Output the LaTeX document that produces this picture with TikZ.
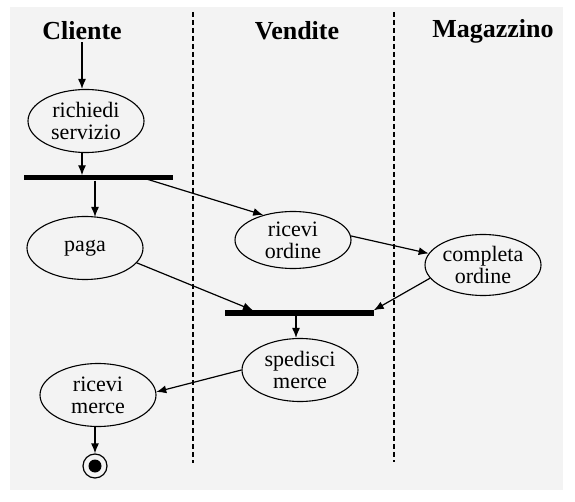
\documentclass[tikz,border=0pt]{standalone}
\usepackage{fontspec}
\setmainfont{Liberation Serif}
\usepackage{xcolor}
\usetikzlibrary{shapes.geometric,arrows.meta,positioning}
\definecolor{lanebg}{HTML}{F3F3F3}

\begin{document}
\begin{tikzpicture}[
x=1pt,y=-1pt,
act/.style={
  draw,
  ellipse,
  line width=1.1pt,
  inner sep=0pt,
  minimum width=116pt,
  minimum height=63pt,
  align=center,
  font=\fontsize{22}{22}\selectfont
},
bar/.style={
  fill=black,
  inner sep=0pt,
  minimum width=149pt,
  minimum height=5pt
},
title/.style={
  font=\fontsize{26}{28}\selectfont\bfseries,
  inner sep=2pt
},
flow/.style={
  -{Latex[length=10pt,width=8pt]},
  line width=1.2pt
},
lane/.style={
  dashed,
  dash pattern=on 5pt off 3pt,
  line width=1.2pt
}
]
\useasboundingbox (0,0) rectangle (575,502);
\fill[lanebg] (10,7) rectangle (563,490);

% corsie
\draw[lane] (193,12) -- (193,463);
\draw[lane] (394,12) -- (394,462);
\node[title] (cliente) at (82,31) {Cliente};
\node[title] (vendite) at (297,31) {Vendite};
\node[title] (magazzino) at (493,31) {Magazzino};

% attivita
\node[act] (richiedi) at (86,121) {richiedi\\servizio};
\node[bar] (fork) at (98.5,178) {};
\node[act] (paga) at (85,248) {paga};
\node[act,minimum height=57pt] (ricord) at (293,240) {ricevi\\ordine};
\node[act,minimum height=61pt] (completa) at (483,265) {completa\\ordine};
\node[bar] (join) at (299,313) {};
\node[act] (spedisci) at (300,370) {spedisci\\merce};
\node[act] (ricmerce) at (98,395) {ricevi\\merce};
\node[draw,circle,line width=1.2pt,minimum size=24pt,inner sep=0pt] (fine) at (95,466) {};
\fill (fine) circle (6.5pt);

\draw[flow] (cliente) -- (cliente |- richiedi.north);
\draw[flow] (richiedi.south -| cliente) -- (fork.north -| cliente);
\draw[flow] ([xshift=-3.5pt]fork.south) -- ([xshift=-3.5pt,yshift=-1pt]fork.south |- paga.north);
\draw[flow] ([xshift=-30pt]fork.east) -- (ricord.140);
\draw[flow] (ricord.4) -- (completa.168);
\draw[flow] (paga.-16) -- ([xshift=-46pt]join.north);
\draw[flow] (completa.-166) -- (join.north east);
\draw[flow] ([xshift=-3pt]join.south) -- ([xshift=-3pt]join.south |- spedisci.north);
\draw[flow] (spedisci.west) -- (ricmerce.3);
\draw[flow] (ricmerce.south -| fine) -- (fine);
\end{tikzpicture}
\end{document}
